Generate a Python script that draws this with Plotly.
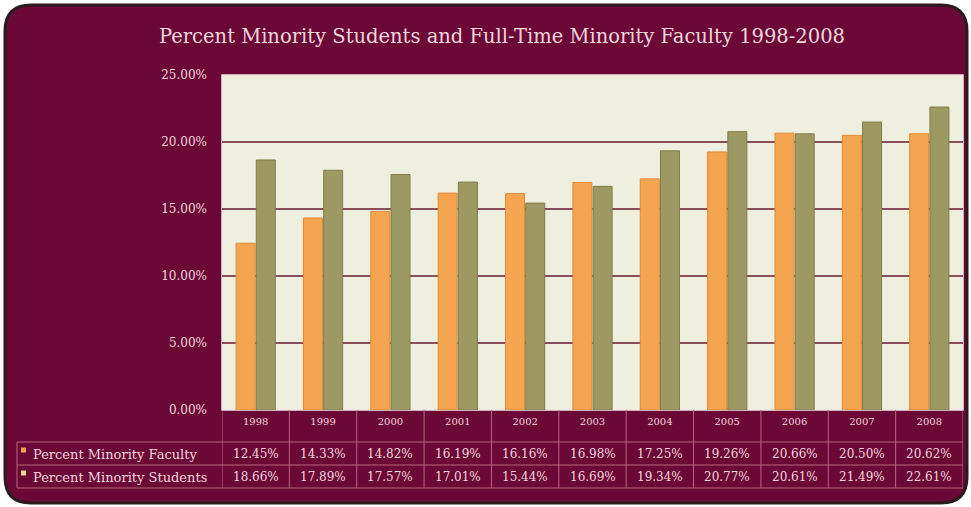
import plotly.graph_objects as go

years = ["1998", "1999", "2000", "2001", "2002", "2003", "2004", "2005", "2006", "2007", "2008"]
faculty = [12.45, 14.33, 14.82, 16.19, 16.16, 16.98, 17.25, 19.26, 20.66, 20.50, 20.62]
students = [18.66, 17.89, 17.57, 17.01, 15.44, 16.69, 19.34, 20.77, 20.61, 21.49, 22.61]
series_names = ["Percent Minority Faculty", "Percent Minority Students"]
y_ticks = [0, 5, 10, 15, 20, 25]
title_text = "Percent Minority Students and Full-Time Minority Faculty 1998-2008"

W_PX, H_PX = 971, 507
L, R, T, B = 222, 963, 75, 410
PW, PH = R - L, B - T

def px(x):
    return (x - L) / PW

def py(y):
    return (B - y) / PH

MAROON = "#6c0836"
TXT = "#f2d6de"
LINE = "#b8667f"
ORANGE = "#f5a550"
OLIVE = "#9c9a62"
FONT = "DejaVu Serif"

idx = list(range(len(years)))

fig = go.Figure()
fig.add_trace(go.Bar(x=idx, y=faculty, name=series_names[0],
                     marker=dict(color=ORANGE, line=dict(color="#e08a38", width=1))))
fig.add_trace(go.Bar(x=idx, y=students, name=series_names[1],
                     marker=dict(color=OLIVE, line=dict(color="#7f7d4a", width=1))))

shapes = []
# rounded frame
x0, x1, y0, y1, r = 5, 967, 5, 503, 26
def P(x, y):
    return f"{px(x):.5f},{py(y):.5f}"
path = (f"M {P(x0 + r, y0)} L {P(x1 - r, y0)} Q {P(x1, y0)} {P(x1, y0 + r)} "
        f"L {P(x1, y1 - r)} Q {P(x1, y1)} {P(x1 - r, y1)} "
        f"L {P(x0 + r, y1)} Q {P(x0, y1)} {P(x0, y1 - r)} "
        f"L {P(x0, y0 + r)} Q {P(x0, y0)} {P(x0 + r, y0)} Z")
shapes.append(dict(type="path", xref="paper", yref="paper", path=path,
                   fillcolor=MAROON, line=dict(color="#2a1c1e", width=3), layer="below"))
# plot area background
shapes.append(dict(type="rect", xref="paper", yref="paper", x0=0, x1=1, y0=0, y1=1,
                   fillcolor="#efefe0", line=dict(color="#f4e4e8", width=1.5), layer="below"))

# table lines
for yy in [442, 465, 488]:
    shapes.append(dict(type="line", xref="paper", yref="paper", x0=px(17), x1=px(963),
                       y0=py(yy), y1=py(yy), line=dict(color=LINE, width=1)))
shapes.append(dict(type="line", xref="paper", yref="paper", x0=px(17), x1=px(17),
                   y0=py(442), y1=py(488), line=dict(color=LINE, width=1)))
for i in range(len(years) + 1):
    shapes.append(dict(type="line", xref="x", yref="paper", x0=i - 0.5, x1=i - 0.5,
                       y0=py(410), y1=py(488), line=dict(color=LINE, width=1)))
# legend keys
for yy, c in [(450, "#f0a04a"), (473, "#e8d890")]:
    shapes.append(dict(type="rect", xref="paper", yref="paper", x0=px(21), x1=px(26),
                       y0=py(yy + 2.5), y1=py(yy - 2.5), fillcolor=c, line=dict(width=0)))

annotations = []
annotations.append(dict(text=title_text, xref="paper", yref="paper", x=px(502), y=py(37),
                        showarrow=False, font=dict(family=FONT, size=19.5, color=TXT),
                        xanchor="center", yanchor="middle"))
for yy, name in [(454, series_names[0]), (477, series_names[1])]:
    annotations.append(dict(text=name, xref="paper", yref="paper", x=px(31), y=py(yy),
                            showarrow=False, xanchor="left", yanchor="middle",
                            font=dict(family=FONT, size=13, color=TXT)))
for yy, vals in [(454, faculty), (477, students)]:
    for i, v in zip(idx, vals):
        annotations.append(dict(text=f"{v:.2f}%", xref="x", yref="paper", x=i, y=py(yy),
                                showarrow=False, xanchor="center", yanchor="middle",
                                font=dict(family=FONT, size=12, color=TXT)))

fig.update_layout(
    width=W_PX, height=H_PX,
    margin=dict(l=L, r=W_PX - R, t=T, b=H_PX - B),
    paper_bgcolor="white", plot_bgcolor="rgba(0,0,0,0)",
    barmode="group", bargap=0.4, bargroupgap=0.06,
    showlegend=False,
    shapes=shapes, annotations=annotations,
    font=dict(family=FONT, color=TXT),
)
fig.update_xaxes(range=[-0.5, len(years) - 0.5], tickvals=idx, ticktext=years,
                 showgrid=False, showline=False, ticks="", zeroline=False,
                 tickfont=dict(family=FONT, size=10, color=TXT), ticklabelstandoff=4)
fig.update_yaxes(range=[0, 25], tickvals=y_ticks, ticktext=[f"{v:.2f}%" for v in y_ticks],
                 showgrid=True, gridcolor="#8a4d5c", gridwidth=1.5, zeroline=False,
                 tickfont=dict(family=FONT, size=12, color=TXT), ticklabelstandoff=14)

fig.write_html("out.html", config={"displayModeBar": False},
               post_script="document.body.style.margin='0';")
